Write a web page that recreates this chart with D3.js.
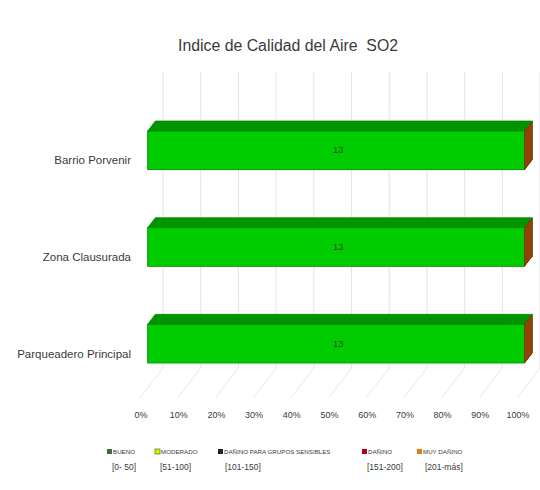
<!DOCTYPE html>
<html>
<head>
<meta charset="utf-8">
<script src="https://cdn.jsdelivr.net/npm/d3@7"></script>
<style>
  body { margin: 0; background: #fff; }
  text { font-family: "Liberation Sans Narrow", "Liberation Sans", Arial, sans-serif; fill: #3a3a3a; }
</style>
</head>
<body>
<script>
const title = "Indice de Calidad del Aire  SO2";
const categories = ["Barrio Porvenir", "Zona Clausurada", "Parqueadero Principal"];
const seriesNames = ["BUENO", "MODERADO", "DAÑINO PARA GRUPOS SENSIBLES", "DAÑINO", "MUY DAÑINO"];
const seriesRanges = ["[0- 50]", "[51-100]", "[101-150]", "[151-200]", "[201-más]"];
const bueno = [13, 13, 13];
const moderado = [0, 0, 0];
const sensibles = [0, 0, 0];
const danino = [0, 0, 0];
const muyDanino = [0, 0, 0];
const pctTicks = [0, 0.1, 0.2, 0.3, 0.4, 0.5, 0.6, 0.7, 0.8, 0.9, 1];

const barColors = ["#00CC00", "#FFFF00", "#333333", "#C00000", "#E46C0A"];
const legendColors = ["#3d6b3d", "#e6e600", "#222222", "#b00020", "#e07a1a"];

const width = 540, height = 490;
const depth = { x: 23, y: -30 };     // full floor depth offset
const barFront = 1 / 3, barBack = 2 / 3;
const floorY = 398, wallTop = 72;

// build rows for the stack
const rows = categories.map((c, i) => ({
  cat: c,
  s0: bueno[i], s1: moderado[i], s2: sensibles[i], s3: danino[i], s4: muyDanino[i]
}));
const keys = ["s0", "s1", "s2", "s3", "s4"];
const stacked = d3.stack().keys(keys).offset(d3.stackOffsetExpand)(rows);

const x = d3.scaleLinear().domain([0, 1]).range([140, 517]);
const y = d3.scaleBand().domain(categories).range([112, 402]).paddingInner(0.6).paddingOuter(0.3);

const svg = d3.select("body").append("svg")
  .attr("width", width).attr("height", height);

// title
svg.append("text")
  .attr("x", 288).attr("y", 51)
  .attr("text-anchor", "middle")
  .style("font-size", "16px")
  .style("white-space", "pre")
  .attr("textLength", 220)
  .attr("lengthAdjust", "spacingAndGlyphs")
  .text(title);

// back wall gridlines
svg.append("g").selectAll("line")
  .data(pctTicks)
  .join("line")
  .attr("x1", d => x(d) + depth.x).attr("x2", d => x(d) + depth.x)
  .attr("y1", wallTop).attr("y2", floorY + depth.y)
  .attr("stroke", "#e4e4e4").attr("stroke-width", 1);

// floor lines
svg.append("g").selectAll("line")
  .data(pctTicks)
  .join("line")
  .attr("x1", d => x(d)).attr("y1", floorY)
  .attr("x2", d => x(d) + depth.x).attr("y2", floorY + depth.y)
  .attr("stroke", "#e8e8e8").attr("stroke-width", 1);

// tick labels
svg.append("g").selectAll("text")
  .data(pctTicks)
  .join("text")
  .attr("x", d => x(d) + 1).attr("y", 418)
  .attr("text-anchor", "middle")
  .style("font-size", "9px")
  .text(d3.format(".0%"));

// category labels
svg.append("g").selectAll("text")
  .data(categories)
  .join("text")
  .attr("x", 131).attr("y", d => y(d) + y.bandwidth() / 2 + 4)
  .attr("text-anchor", "end")
  .style("font-size", "11.5px")
  .text(d => d);

// bars
const fx = barFront * depth.x, fy = barFront * depth.y;
const bx = barBack * depth.x, by = barBack * depth.y;
const bh = y.bandwidth();

stacked.forEach((layer, li) => {
  const col = barColors[li];
  const g = svg.append("g");
  layer.forEach(seg => {
    const cat = seg.data.cat;
    const x0 = x(seg[0]), x1 = x(seg[1]);
    const top = y(cat);
    // top face
    g.append("path")
      .attr("d", `M${x0 + fx},${top + fy}L${x0 + bx},${top + by}L${x1 + bx},${top + by}L${x1 + fx},${top + fy}Z`)
      .attr("fill", d3.color(col).darker(0.9))
      .attr("stroke", x1 > x0 ? d3.color(col).darker(1.3) : "none")
      .attr("stroke-width", 0.7);
    // front face
    if (x1 > x0) {
      g.append("rect")
        .attr("x", x0 + fx).attr("y", top + fy)
        .attr("width", x1 - x0).attr("height", bh)
        .attr("fill", col)
        .attr("stroke", d3.color(col).darker(1.2))
        .attr("stroke-width", 0.8);
      g.append("text")
        .attr("x", (x0 + x1) / 2 + fx + 2).attr("y", top + fy + bh / 2 + 3)
        .attr("text-anchor", "middle")
        .style("font-size", "9.5px")
        .style("fill", "#245024")
        .text(seg.data[keys[li]]);
    }
    // right side face
    g.append("path")
      .attr("d", `M${x1 + fx},${top + fy}L${x1 + bx},${top + by}L${x1 + bx},${top + by + bh}L${x1 + fx},${top + fy + bh}Z`)
      .attr("fill", d3.color(col).darker(1.3));
  });
});

// legend
const legendX = [107, 155, 218, 362, 417];
const rangeX = [112, 160, 225, 367, 425];
const lg = svg.append("g");
seriesNames.forEach((name, i) => {
  lg.append("rect")
    .attr("x", legendX[i]).attr("y", 449)
    .attr("width", 5).attr("height", 5)
    .attr("fill", legendColors[i])
    .attr("stroke", i === 1 ? "#5a8a20" : "none").attr("stroke-width", 0.8);
  lg.append("text")
    .attr("x", legendX[i] + 6).attr("y", 454)
    .style("font-size", "6.2px")
    .text(name);
  lg.append("text")
    .attr("x", rangeX[i]).attr("y", 470)
    .style("font-size", "8.5px")
    .text(seriesRanges[i]);
});
</script>
</body>
</html>
